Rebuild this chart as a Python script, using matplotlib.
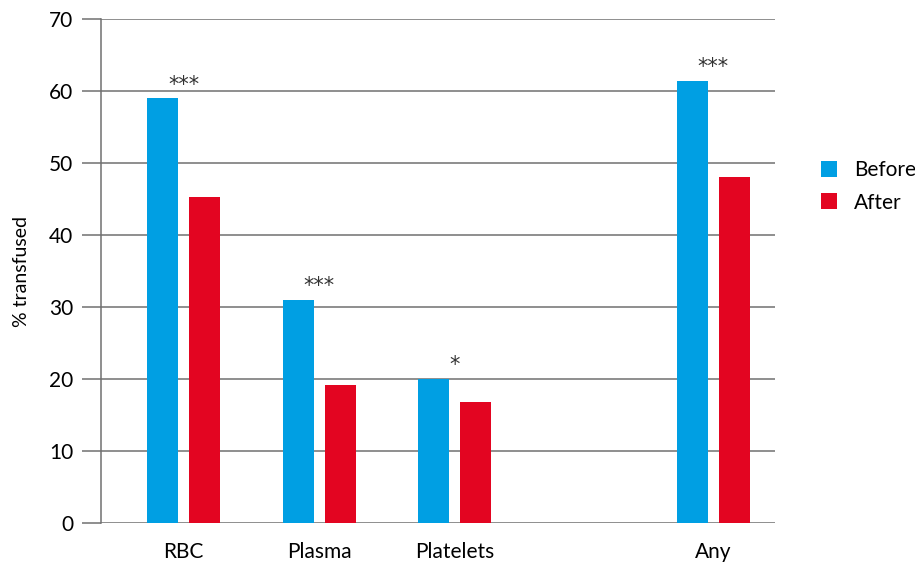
import numpy as np
import matplotlib.pyplot as plt

categories = ['RBC', 'Plasma', 'Platelets', 'Any']
before = [59.0, 31.0, 20.0, 61.4]
after = [45.3, 19.2, 16.8, 48.1]
stars = ['***', '***', '*', '***']

plt.rcParams['font.family'] = ['Lato', 'DejaVu Sans']

# group centres, "Any" set a bit apart from the others
x = np.array([0, 1, 2, 3.91])
w = 0.229
off = 0.155
blue = '#009FE3'
red = '#E30521'
grid = '#707070'

fig = plt.figure(figsize=(9.15, 5.66), dpi=100)
ax = fig.add_axes([0.1104, 0.076, 0.7366, 0.8904])

ax.bar(x - off, before, w, color=blue, label='Before', zorder=3)
ax.bar(x + off, after, w, color=red, label='After', zorder=3)

for xi, b, s in zip(x, before, stars):
    ax.text(xi, b + 0.5, s, ha='center', va='bottom', fontsize=15,
            color='#333333', family='DejaVu Sans')

ax.set_xlim(-0.609, 4.365)
ax.set_ylim(0, 70)
ax.set_yticks(range(0, 71, 10))
ax.set_xticks(x)
ax.set_xticklabels(categories)
ax.yaxis.grid(True, color=grid, linewidth=1.1, zorder=0)
ax.set_axisbelow(True)

for side in ['top', 'right', 'bottom']:
    ax.spines[side].set_visible(False)
ax.spines['left'].set_color(grid)
ax.spines['left'].set_linewidth(1.1)

ax.tick_params(axis='y', length=14, width=1.1, color=grid, labelsize=15, pad=6)
ax.tick_params(axis='x', length=0, labelsize=15, pad=14)
ax.set_ylabel('% transfused', fontsize=14, labelpad=14)

ax.legend(loc='center left', bbox_to_anchor=(1.04, 0.668), frameon=False,
          fontsize=15, handlelength=0.8, handleheight=0.8, handletextpad=0.8,
          labelspacing=0.6)

fig.savefig('out.png', dpi=100)
